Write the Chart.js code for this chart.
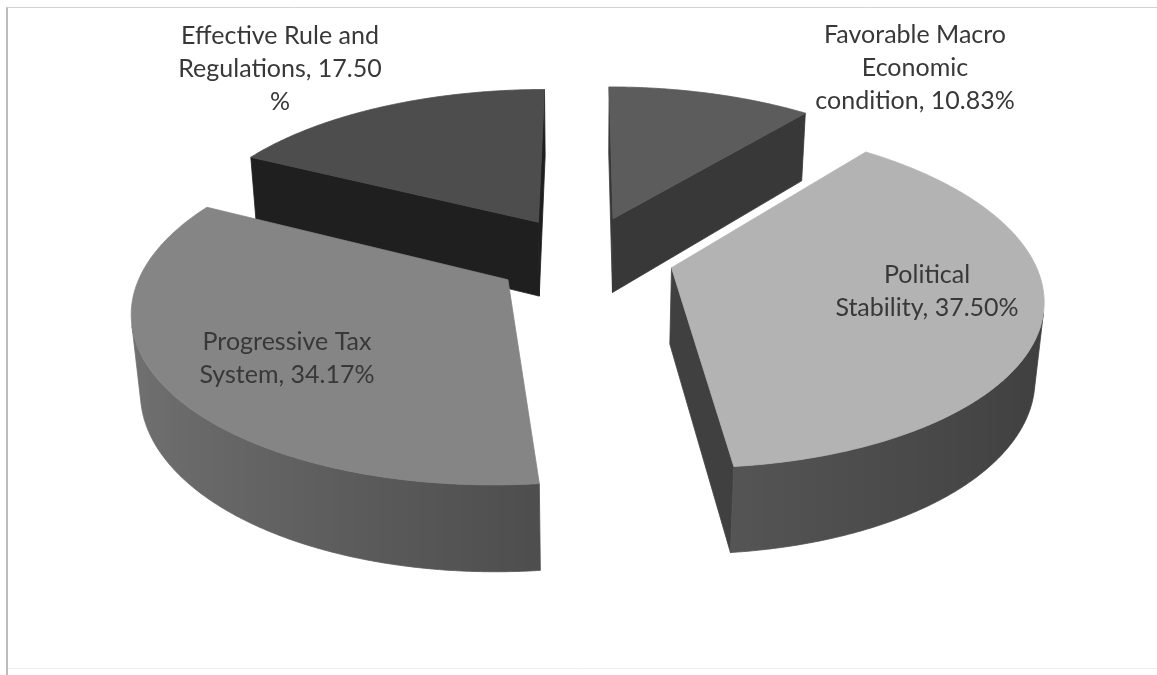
<!DOCTYPE html>
<html>
<head>
<meta charset="utf-8">
<script src="https://cdn.jsdelivr.net/npm/chart.js@4.4.1/dist/chart.umd.min.js"></script>
<style>
  html, body { margin: 0; padding: 0; background: #ffffff; }
  #wrap { width: 1157px; height: 675px; position: relative; }
</style>
</head>
<body>
<div id="wrap"><canvas id="chart" width="1157" height="675"></canvas></div>
<script>
// Survey shares (percent), clockwise from 12 o'clock
const categories = [
  'Favorable Macro Economic condition',
  'Political Stability',
  'Progressive Tax System',
  'Effective Rule and Regulations'
];
const shares = [10.83, 37.50, 34.17, 17.50];

// Greyscale palette: top face, cut (radial) face, rim shading dark/light
const topColors = ['#5c5c5c', '#b3b3b3', '#858585', '#4d4d4d'];
const cutColors = ['#383838', '#404040', '#4a4a4a', '#1f1f1f'];
const rimDark   = [[40, 40, 40], [62, 62, 62], [48, 48, 48], [20, 20, 20]];
const rimLight  = [[80, 80, 80], [112, 112, 112], [114, 114, 114], [60, 60, 60]];

// Label anchors: centre x and first baseline y
const labelAnchors = [[915, 43], [927, 283], [287, 350], [280, 44]];

function labelLines(name, value, maxChars) {
  const tokens = name.split(' ').map(w => ({ t: w, sep: ' ' }));
  tokens[tokens.length - 1].t += ',';
  tokens.push({ t: value.toFixed(2), sep: ' ' }, { t: '%', sep: '' });
  const lines = [];
  let cur = '';
  for (const tk of tokens) {
    const cand = cur ? cur + tk.sep + tk.t : tk.t;
    if (cur && cand.length > maxChars) { lines.push(cur); cur = tk.t; }
    else cur = cand;
  }
  if (cur) lines.push(cur);
  return lines;
}

function rgb(c) { return 'rgb(' + c.map(v => Math.round(v)).join(',') + ')'; }
function mix(a, b, t) { return a.map((v, i) => v + (b[i] - v) * t); }

// Draws the pie as exploded, extruded slices seen in perspective,
// using the angles Chart.js computed for each arc element.
const pie3d = {
  id: 'pie3d',
  beforeDraw(chart) {
    const ctx = chart.ctx;
    ctx.save();
    ctx.fillStyle = '#ffffff';
    ctx.fillRect(0, 0, chart.width, chart.height);
    ctx.strokeStyle = '#bcbcbc';
    ctx.lineWidth = 2;
    ctx.beginPath(); ctx.moveTo(7, 7); ctx.lineTo(7, chart.height); ctx.stroke();
    ctx.strokeStyle = '#d2d2d2';
    ctx.lineWidth = 1;
    ctx.beginPath(); ctx.moveTo(7, 7.5); ctx.lineTo(chart.width, 7.5); ctx.stroke();
    ctx.strokeStyle = '#eeeeee';
    ctx.beginPath(); ctx.moveTo(8, 668.5); ctx.lineTo(chart.width, 668.5); ctx.stroke();
    ctx.restore();
  },
  beforeDatasetDraw() { return false; },
  afterDraw(chart) {
    const o = chart.options.plugins.pie3d;
    const ctx = chart.ctx;
    const arcs = chart.getDatasetMeta(0).data;
    const cx = arcs[0].x, cy = arcs[0].y;
    const R = arcs[0].outerRadius * o.scale;
    const a = o.tilt * Math.PI / 180, sA = Math.sin(a), cA = Math.cos(a);
    const D = cA / o.persp;
    const camZ = -D * cA;
    const h = o.depth, e = o.explode;

    const P = (x, y, z) => {
      const Zc = D + z * cA - y * sA;
      const Yc = z * sA + y * cA;
      return [cx + R * D * x / Zc, cy - R * D * Yc / Zc];
    };
    const facing = (nx, nz, px, pz) => nx * (0 - px) + nz * (camZ - pz) > 0;

    const slices = arcs.map((arc, i) => {
      const t0 = arc.startAngle + Math.PI / 2;
      const t1 = arc.endAngle + Math.PI / 2;
      const tm = (t0 + t1) / 2;
      return { i, t0, t1, tm, ox: e * Math.sin(tm), oz: e * Math.cos(tm) };
    });
    slices.sort((p, q) => Math.cos(q.tm) - Math.cos(p.tm));

    const poly = (pts, fill) => {
      ctx.beginPath();
      pts.forEach((p, k) => k ? ctx.lineTo(p[0], p[1]) : ctx.moveTo(p[0], p[1]));
      ctx.closePath();
      ctx.fillStyle = fill;
      ctx.fill();
      ctx.strokeStyle = fill;
      ctx.lineWidth = 0.8;
      ctx.stroke();
    };

    ctx.save();
    for (const s of slices) {
      const { i, t0, t1, ox, oz } = s;
      const rim = (t, y) => P(ox + Math.sin(t), y, oz + Math.cos(t));
      const ctr = y => P(ox, y, oz);

      // radial cut faces
      [[t0, -Math.cos(t0), Math.sin(t0)], [t1, Math.cos(t1), -Math.sin(t1)]].forEach(([t, nx, nz]) => {
        const px = ox + 0.5 * Math.sin(t), pz = oz + 0.5 * Math.cos(t);
        if (facing(nx, nz, px, pz)) {
          poly([ctr(0), rim(t, 0), rim(t, -h), ctr(-h)], cutColors[i]);
        }
      });

      // curved outer rim, visible part only
      const steps = Math.max(8, Math.ceil((t1 - t0) / (Math.PI / 360)));
      let run = [];
      const runs = [];
      for (let k = 0; k <= steps; k++) {
        const t = t0 + (t1 - t0) * k / steps;
        const vis = facing(Math.sin(t), Math.cos(t), ox + Math.sin(t), oz + Math.cos(t));
        if (vis) run.push(t);
        else if (run.length) { runs.push(run); run = []; }
      }
      if (run.length) runs.push(run);
      for (const r of runs) {
        if (r.length < 2) continue;
        const top = r.map(t => rim(t, 0));
        const bot = r.map(t => rim(t, -h)).reverse();
        const xs = top.map(p => p[0]);
        const xmin = Math.min(...xs), xmax = Math.max(...xs);
        const g = ctx.createLinearGradient(xmin, 0, xmax, 0);
        r.forEach((t, k) => {
          const light = (1 - Math.sin(t)) / 2;
          const off = xmax > xmin ? (xs[k] - xmin) / (xmax - xmin) : 0;
          g.addColorStop(Math.min(1, Math.max(0, off)), rgb(mix(rimDark[i], rimLight[i], light)));
        });
        ctx.beginPath();
        top.concat(bot).forEach((p, k) => k ? ctx.lineTo(p[0], p[1]) : ctx.moveTo(p[0], p[1]));
        ctx.closePath();
        ctx.fillStyle = g;
        ctx.fill();
        ctx.strokeStyle = g;
        ctx.lineWidth = 0.8;
        ctx.stroke();
      }

      // top face
      const pts = [ctr(0)];
      for (let k = 0; k <= steps; k++) pts.push(rim(t0 + (t1 - t0) * k / steps, 0));
      poly(pts, topColors[i]);
    }

    // data labels
    ctx.fillStyle = '#383838';
    ctx.font = o.fontSize + 'px Lato';
    ctx.textAlign = 'center';
    ctx.textBaseline = 'alphabetic';
    const values = chart.data.datasets[0].data;
    chart.data.labels.forEach((name, i) => {
      const lines = labelLines(name, values[i], 18);
      const [lx, ly] = labelAnchors[i];
      lines.forEach((ln, k) => ctx.fillText(ln, lx, ly + k * o.lineGap));
    });
    ctx.restore();
  }
};

new Chart(document.getElementById('chart'), {
  type: 'pie',
  data: {
    labels: categories,
    datasets: [{ data: shares, backgroundColor: topColors, borderWidth: 0 }]
  },
  options: {
    responsive: false,
    animation: false,
    layout: { padding: { left: 11, right: 0, top: 0, bottom: 163 } },
    plugins: {
      legend: { display: false },
      tooltip: { enabled: false },
      pie3d: { scale: 1.41, tilt: 27, persp: 0.16, depth: 0.24, explode: 0.25, fontSize: 25, lineGap: 33 }
    }
  },
  plugins: [pie3d]
});
</script>
</body>
</html>
